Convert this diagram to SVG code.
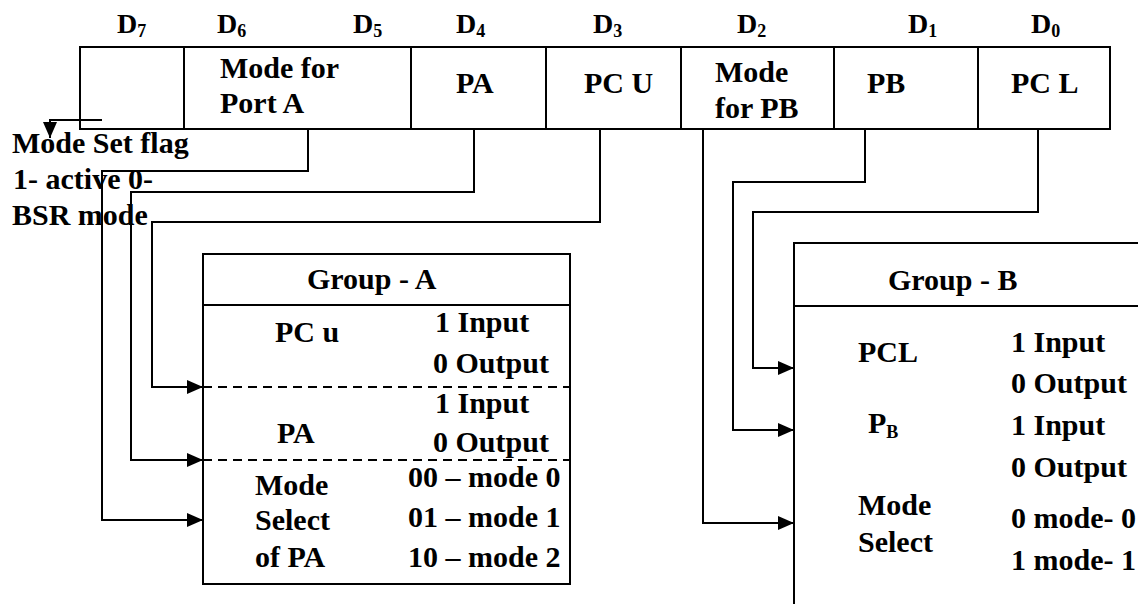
<svg xmlns="http://www.w3.org/2000/svg" width="1138" height="604" viewBox="0 0 1138 604" font-family="Liberation Serif, serif" font-weight="bold" font-size="30">
<style>
text{font-family:'Liberation Serif',serif;font-weight:700;font-size:30px;fill:#000}
.d{font-size:28px}
.sub{font-size:18px}
.box{fill:none;stroke:#000;stroke-width:2}
.ln{fill:none;stroke:#000;stroke-width:2}
.dash{fill:none;stroke:#000;stroke-width:2;stroke-dasharray:9 6}
.conn{fill:none;stroke:#000;stroke-width:2;marker-end:url(#arr)}
</style>
<defs>
<marker id="arr" markerUnits="userSpaceOnUse" markerWidth="16" markerHeight="14" refX="16" refY="7" orient="auto">
<path d="M0,0 L16,7 L0,14 z" fill="#000"/>
</marker>
</defs>
<rect width="1138" height="604" fill="#fff"/>

<g id="bit-labels">
<text class="d" x="117" y="33">D<tspan class="sub" dy="4">7</tspan></text>
<text class="d" x="217" y="33">D<tspan class="sub" dy="4">6</tspan></text>
<text class="d" x="353" y="33">D<tspan class="sub" dy="4">5</tspan></text>
<text class="d" x="456" y="33">D<tspan class="sub" dy="4">4</tspan></text>
<text class="d" x="593" y="33">D<tspan class="sub" dy="4">3</tspan></text>
<text class="d" x="737" y="33">D<tspan class="sub" dy="4">2</tspan></text>
<text class="d" x="908" y="33">D<tspan class="sub" dy="4">1</tspan></text>
<text class="d" x="1031" y="33">D<tspan class="sub" dy="4">0</tspan></text>
</g>

<g id="register">
<rect class="box" x="80" y="47" width="1030" height="82"/>
<path class="ln" d="M184,47V129M411,47V129M546,47V129M681,47V129M834,47V129M978,47V129"/>
<text x="220" y="78">Mode for</text>
<text x="220" y="113">Port A</text>
<text x="456" y="93">PA</text>
<text x="584" y="93">PC U</text>
<text x="715" y="82">Mode</text>
<text x="715" y="118">for PB</text>
<text x="867" y="93">PB</text>
<text x="1011" y="93">PC L</text>
</g>

<g id="mode-set-flag">
<text x="12" y="153">Mode Set flag</text>
<text x="13" y="189">1- active 0-</text>
<text x="12" y="225">BSR mode</text>
</g>

<g id="group-a">
<rect class="box" x="203" y="254" width="367" height="330"/>
<path class="ln" d="M203,305H570"/>
<path class="dash" d="M203,387H570M203,460H570"/>
<text x="307" y="289">Group - A</text>
<text x="275" y="342">PC u</text>
<text x="435" y="332">1 Input</text>
<text x="433" y="373">0 Output</text>
<text x="435" y="413">1 Input</text>
<text x="277" y="443">PA</text>
<text x="433" y="452">0 Output</text>
<text x="255" y="495">Mode</text>
<text x="255" y="530">Select</text>
<text x="255" y="567">of PA</text>
<text x="408" y="487">00 – mode 0</text>
<text x="408" y="527">01 – mode 1</text>
<text x="408" y="567">10 – mode 2</text>
</g>

<g id="group-b">
<path class="ln" d="M1138,243H794V604M794,306H1138"/>
<text x="888" y="290">Group - B</text>
<text x="858" y="362">PCL</text>
<text x="1011" y="352">1 Input</text>
<text x="1011" y="393">0 Output</text>
<text x="868" y="433">P<tspan class="sub" dy="5">B</tspan></text>
<text x="1011" y="435">1 Input</text>
<text x="1011" y="477">0 Output</text>
<text x="858" y="515">Mode</text>
<text x="858" y="552">Select</text>
<text x="1011" y="528">0 mode- 0</text>
<text x="1011" y="570">1 mode- 1</text>
</g>

<g id="connectors">
<polyline class="conn" points="102,120 50,120 50,138"/>
<polyline class="conn" points="308,129 308,171 102,171 102,520 203,520"/>
<polyline class="conn" points="474,129 474,192 131,192 131,460 203,460"/>
<polyline class="conn" points="600,129 600,222 152,222 152,387 203,387"/>
<polyline class="conn" points="703,129 703,523 794,523"/>
<polyline class="conn" points="865,129 865,182 733,182 733,430 794,430"/>
<polyline class="conn" points="1038,129 1038,212 753,212 753,368 794,368"/>
</g>
</svg>
